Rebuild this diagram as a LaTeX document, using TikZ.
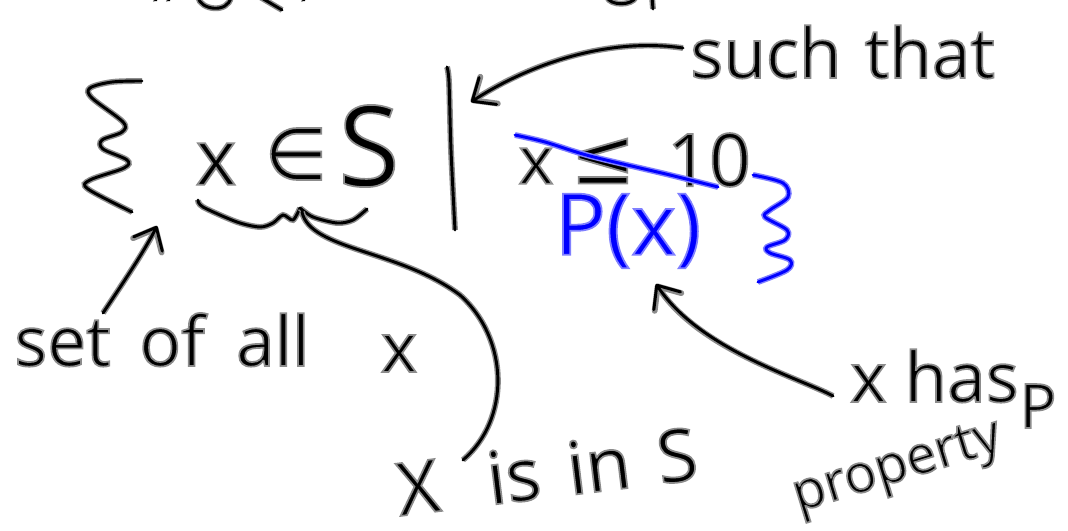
\documentclass[tikz,border=0pt]{standalone}
\usepackage{fontspec}
\setmainfont{Open Sans}
\newfontfamily\symf{DejaVu Sans}
\usetikzlibrary{arrows.meta}
% text drawn once, filled and then stroked with a grey edge (like the ink halo)
\newcommand\hw[1]{\special{pdf:literal direct 2 Tr 1.3 w 0.55 0.55 0.55 RG}#1\special{pdf:literal direct 0 Tr}}
\newcommand\hwb[1]{{\color{blue}\special{pdf:literal direct 2 Tr 1.3 w 0.5 0.5 1 RG}#1\special{pdf:literal direct 0 Tr}}}
\newcommand\fs[1]{\fontsize{#1}{#1}\selectfont}
\tikzset{
  ink/.style={draw=black, line width=2.2pt, line cap=round, line join=round,
    preaction={draw=black!45, line width=4.4pt}},
  blueink/.style={draw=blue, line width=2.2pt, line cap=round, line join=round,
    preaction={draw=blue!50, line width=4.4pt}},
  barb/.style={-{Straight Barb[length=14pt,width=24pt,round]}},
  txt/.style={inner sep=0pt, font=\fs{52}},
}
\begin{document}
\begin{tikzpicture}[x=0.75pt,y=-0.75pt]
\fill[white] (0,0) rectangle (1068,531);
\useasboundingbox (0,0) rectangle (1068,531);

% cut-off strokes at the top edge
\draw[ink] (198,-3) .. controls (200,10) and (228,14) .. (231,-3);
\draw[ink] (260,-3) -- (282,10);
\draw[ink] (607,-3) .. controls (610,6) and (632,6) .. (636,-3);
\draw[ink] (652,-3) -- (653,9);
\draw[ink] (155,-1) -- (156,0);
\draw[ink] (168,-1) -- (169,0);
\draw[ink] (303,-1) -- (304,0);

% left brace
\draw[ink] plot[smooth, tension=0.55] coordinates {(142,81) (112,82) (90,88) (92,98) (123,122) (122,132) (102,140) (103,149) (127,160) (124,168) (90,180) (88,189) (132,212)};

% x in S
\node[txt, font=\fs{58}] (mx) at (216,164) {\hw{x}};
\node[inner sep=0pt, font=\symf\fs{54}] (mel) at (296,154) {\hw{∈}};
\node[txt, font=\fs{84}] (mS) at (369,146) {\hw{S}};

% underbrace
\draw[ink] plot[smooth, tension=0.5] coordinates {(198,200) (203,207) (237,222) (260,227) (273,223) (283,215) (293,220) (300,208)};
\draw[ink] plot[smooth, tension=0.5] coordinates {(300,208) (313,217) (337,223) (353,220) (367,209)};
\coordinate (ubtip) at (302,212);

% vertical bar
\draw[ink] plot[smooth] coordinates {(447,67) (449,82) (451,150) (455,230)};

% x <= 10 (struck out)
\node[txt, font=\fs{50}] (rx) at (536,166) {\hw{x}};
\node[inner sep=0pt, font=\symf\fs{58}] (rle) at (603,161) {\hw{≤}};
\node[txt, font=\fs{55}] (r10) at (709,160) {\hw{10}};
\draw[blueink] plot[smooth] coordinates {(515,135) (545,142) (590,156) (670,175) (718,187)};

% P(x) and right brace
\node[txt, font=\fs{64}] (Px) at (628,231) {\hwb{P(x)}};
\draw[blueink] plot[smooth, tension=0.55] coordinates {(753,175) (783,183) (788,197) (770,210) (765,217) (787,230) (785,240) (767,247) (770,253) (790,260) (787,270) (758,282)};

% labels
\node[txt, anchor=base west] (such) at (690,78) {\hw{such\hspace{4pt} that}};
\node[txt, anchor=base west] (setof) at (14,366) {\hw{set\hspace{8pt} of\hspace{10pt} all}};
\node[txt, anchor=base] (xall) at (399,372) {\hw{x}};
\node[txt, anchor=base west] (xhas) at (850,402) {\hw{x has}};
\node[txt, font=\fs{40}, rotate=17, anchor=base west] (prop) at (798,512) {\hw{property}};
\node[txt, font=\fs{46}] (pp) at (1038,406) {\hw{P}};
\node[txt, font=\fs{55}, rotate=7, anchor=base west] (xin) at (400,516) {\hw{X\hspace{22pt} is\hspace{6pt} in\hspace{6pt} S}};

% connectors
\coordinate (suchS) at (683,48);
\coordinate (barTip) at (471,102);
\draw[ink, barb] (suchS) .. controls (600,36) and (520,70) .. (barTip);

\coordinate (setS) at (103,313);
\coordinate (braceTip) at (157,226);
\draw[ink, barb] (setS) .. controls (125,280) and (145,250) .. (braceTip);

\coordinate (hasS) at (833,396);
\coordinate (PxTip) at (656,284);
\draw[ink, barb] (hasS) .. controls (800,378) and (700,350) .. (PxTip);

\coordinate (xinTop) at (463,460);
\draw[ink] (ubtip) .. controls (310,250) and (400,250) .. (460,295) .. controls (510,340) and (510,420) .. (xinTop);
\end{tikzpicture}
\end{document}
